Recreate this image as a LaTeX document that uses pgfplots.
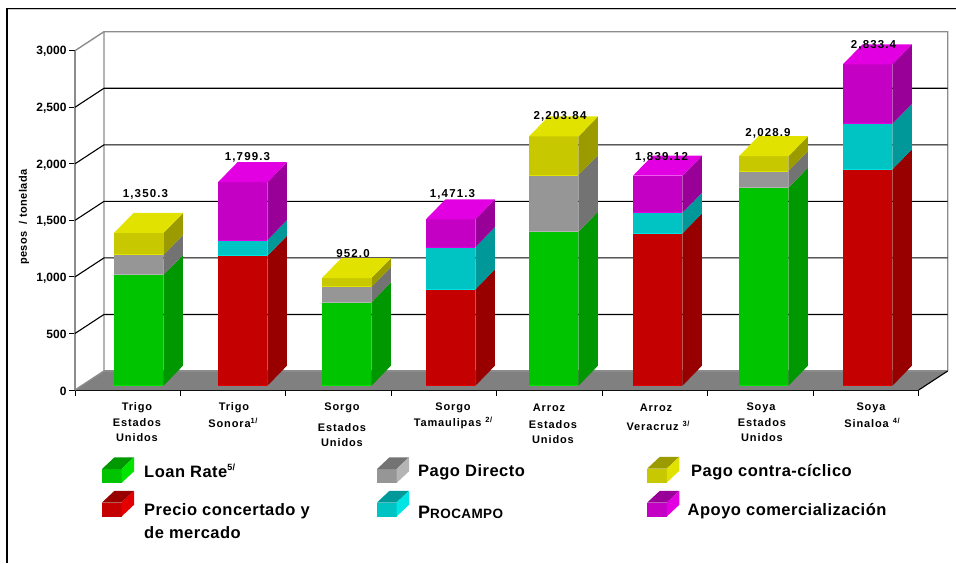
\documentclass[border=0pt]{standalone}
\usepackage{fontspec}
\setmainfont{Liberation Sans}
\usepackage{tikz}
\usepackage{pgfplots}
\pgfplotsset{compat=1.18}

\definecolor{gFront}{RGB}{0,196,0}\definecolor{gSide}{RGB}{0,152,0}\definecolor{gLight}{RGB}{0,228,0}
\definecolor{rFront}{RGB}{196,0,0}\definecolor{rSide}{RGB}{152,0,0}\definecolor{rLight}{RGB}{228,0,0}
\definecolor{dFront}{RGB}{150,150,150}\definecolor{dSide}{RGB}{115,115,115}\definecolor{dLight}{RGB}{180,180,180}
\definecolor{cFront}{RGB}{0,196,196}\definecolor{cSide}{RGB}{0,152,152}\definecolor{cLight}{RGB}{0,228,228}
\definecolor{yFront}{RGB}{200,200,0}\definecolor{ySide}{RGB}{155,155,0}\definecolor{yLight}{RGB}{226,226,0}
\definecolor{mFront}{RGB}{196,0,196}\definecolor{mSide}{RGB}{152,0,152}\definecolor{mLight}{RGB}{226,0,226}
\definecolor{floorgray}{RGB}{128,128,128}
\definecolor{wallgray}{RGB}{140,140,140}

% depth of the walls and of the bars, in axis units
\newcommand{\wx}{0.275}\newcommand{\wy}{168}
\newcommand{\bw}{0.469}\newcommand{\bdx}{0.185}\newcommand{\bdy}{177}\newcommand{\lift}{38}

\newcommand{\gridat}[1]{%
  \pgfmathsetmacro\gy{#1+\wy}%
  \addplot[black,line width=1.1pt] coordinates {(0,#1) (\wx,\gy) (8.275,\gy)};}

\newcommand{\barstart}[1]{\gdef\bx{#1}\gdef\by{0}}
% value, colour prefix
\newcommand{\seg}[2]{%
  \pgfmathsetmacro\xb{\bx+\bw}\pgfmathsetmacro\xc{\bx+\bw+\bdx}%
  \pgfmathsetmacro\ya{\by+\lift}\pgfmathsetmacro\yb{\by+#1+\lift}%
  \pgfmathsetmacro\yc{\ya+\bdy}\pgfmathsetmacro\yd{\yb+\bdy}%
  \addplot[fill=#2Front,draw=none] coordinates {(\bx,\ya) (\xb,\ya) (\xb,\yb) (\bx,\yb)} --cycle;
  \addplot[fill=#2Side,draw=none] coordinates {(\xb,\ya) (\xc,\yc) (\xc,\yd) (\xb,\yb)} --cycle;
  \addplot[#2Light,line width=1pt] coordinates {(\bx,\ya) (\xb,\ya)};
  \pgfmathsetmacro\newy{\by+#1}\global\let\by\newy}
% top face, colour prefix
\newcommand{\bartop}[1]{%
  \pgfmathsetmacro\xb{\bx+\bw}\pgfmathsetmacro\xc{\bx+\bw+\bdx}\pgfmathsetmacro\xd{\bx+\bdx}%
  \pgfmathsetmacro\yb{\by+\lift}\pgfmathsetmacro\yd{\yb+\bdy}%
  \addplot[fill=#1Light,draw=none] coordinates {(\bx,\yb) (\xb,\yb) (\xc,\yd) (\xd,\yd)} --cycle;}

% legend swatch: x, y of the top left of the front face, colour prefix
\newcommand{\swatch}[3]{%
  \fill[#3Front] (#1,#2) rectangle ++(19.5,14);
  \fill[#3Side] (#1,#2) -- ++(12.5,-11.7) -- ++(19.5,0) -- ++(-12.5,11.7) -- cycle;
  \fill[#3Light] (#1+19.5,#2) -- ++(12.5,-11.7) -- ++(0,14) -- ++(-12.5,11.7) -- cycle;}

\newcommand{\lab}{\fontsize{11.5}{13}\selectfont\bfseries\addfontfeature{LetterSpace=10}}
\newcommand{\cat}{\fontsize{11}{13}\selectfont\bfseries\addfontfeature{LetterSpace=8}}
\newcommand{\leg}{\fontsize{16.5}{20}\selectfont\bfseries\addfontfeature{LetterSpace=3}}
\newcommand{\note}[1]{\raisebox{0.4em}{\fontsize{7.5}{8}\selectfont\bfseries #1}}
\newcommand{\legnote}[1]{\raisebox{0.45em}{\fontsize{9}{10}\selectfont\bfseries #1}}

\begin{document}
\begin{tikzpicture}[x=1pt,y=-1pt]
\path[use as bounding box] (0,0) rectangle (956,563);
\draw[black!20,line width=1pt] (7,9.8) -- (956,9.8);
\draw[black,line width=1.1pt] (956,8.5) -- (7,8.5) -- (7,563);

\begin{axis}[
    at={(75pt,-390pt)}, anchor=south west,
    scale only axis,
    width=843.7pt,
    height=339.3pt,
    xmin=0, xmax=8,
    ymin=0, ymax=3000,
    clip=false,
    axis x line=bottom,
    axis y line=left,
    axis line style={-},
    x axis line style={black,line width=1.6pt},
    y axis line style={wallgray,line width=1.4pt},
    xtick={0,1,2,3,4,5,6,7,8},
    xticklabels={},
    ytick={0,500,1000,1500,2000,2500,3000},
    tick align=outside,
    major tick length=6pt,
    tick style={black,line width=1pt},
    /pgf/number format/assume math mode=true,
    /pgf/number format/1000 sep={,},
    yticklabel style={font=\fontsize{12}{14}\selectfont\bfseries,xshift=1pt,yshift=-1pt},
]
% floor and walls
\addplot[fill=floorgray,draw=none] coordinates {(0,0) (0.275,168) (8.275,168) (8,0)} --cycle;
\addplot[wallgray,line width=1.4pt] coordinates {(0,0) (0.275,168) (0.275,3168) (8.275,3168) (8.275,168)};
\addplot[wallgray,line width=1.4pt] coordinates {(0.275,168) (8.275,168)};
\addplot[wallgray,line width=1.4pt] coordinates {(0,3000) (0.275,3168)};
\addplot[black,line width=1.1pt] coordinates {(8,0) (8.275,168)};
\gridat{500}\gridat{1000}\gridat{1500}\gridat{2000}\gridat{2500}

% bars
\barstart{0.370}\seg{979}{g}\seg{177}{d}\seg{194.3}{y}\bartop{y}
\barstart{1.356}\seg{1149}{r}\seg{139}{c}\seg{511.3}{m}\bartop{m}
\barstart{2.342}\seg{737}{g}\seg{136}{d}\seg{79}{y}\bartop{y}
\barstart{3.328}\seg{852}{r}\seg{374}{c}\seg{245.3}{m}\bartop{m}
\barstart{4.305}\seg{1362}{g}\seg{501}{d}\seg{340.84}{y}\bartop{y}
\barstart{5.291}\seg{1347}{r}\seg{183}{c}\seg{327}{m}\bartop{m}
\barstart{6.296}\seg{1751}{g}\seg{147}{d}\seg{130.9}{y}\bartop{y}
\barstart{7.282}\seg{1913}{r}\seg{403}{c}\seg{526}{m}\bartop{m}
\end{axis}

% value labels
\begin{scope}[every node/.append style={yshift=-1pt}]
\node[font=\lab] at (145.5,193) {1,350.3};
\node[font=\lab] at (247.5,156) {1,799.3};
\node[font=\lab] at (353,253) {952.0};
\node[font=\lab] at (452.5,193) {1,471.3};
\node[font=\lab] at (560,115) {2,203.84};
\node[font=\lab] at (661.5,156) {1,839.12};
\node[font=\lab] at (768,132) {2,028.9};
\node[font=\lab] at (873.5,44) {2,833.4};

% categories
\node[font=\cat] at (137,407) {Trigo};
\node[font=\cat] at (137,422) {Estados};
\node[font=\cat] at (137,437) {Unidos};
\node[font=\cat] at (234,407) {Trigo};
\node[font=\cat] at (233,422) {Sonora\note{1/}};
\node[font=\cat] at (342,407) {Sorgo};
\node[font=\cat] at (342,427) {Estados};
\node[font=\cat] at (342,442) {Unidos};
\node[font=\cat] at (453,407) {Sorgo};
\node[font=\cat] at (453,422) {Tamaulipas \note{2/}};
\node[font=\cat] at (549,407) {Arroz};
\node[font=\cat] at (553,424) {Estados};
\node[font=\cat] at (553,439) {Unidos};
\node[font=\cat] at (656,407) {Arroz};
\node[font=\cat] at (658,425) {Veracruz \note{3/}};
\node[font=\cat] at (761,407) {Soya};
\node[font=\cat] at (762,422) {Estados};
\node[font=\cat] at (762,437) {Unidos};
\node[font=\cat] at (871,407) {Soya};
\node[font=\cat] at (872,422) {Sinaloa \note{4/}};
\end{scope}

% axis title
\node[rotate=90,font=\fontsize{11}{12}\selectfont\bfseries\addfontfeature{LetterSpace=4}] at (24,217) {pesos \ / tonelada};

% legend
\swatch{102}{469}{g}
\swatch{102}{502.5}{r}
\swatch{377}{469}{d}
\swatch{377}{502.5}{c}
\swatch{647.3}{468.5}{y}
\swatch{647.3}{502.5}{m}
\node[anchor=west,inner sep=0pt,font=\leg] at (144,471) {Loan Rate\legnote{5/}};
\node[anchor=west,inner sep=0pt,font=\leg] at (144,511.5) {Precio concertado y};
\node[anchor=west,inner sep=0pt,font=\leg] at (144,532.5) {de mercado};
\node[anchor=west,inner sep=0pt,font=\leg] at (418,472.5) {Pago Directo};
\node[anchor=west,inner sep=0pt,font=\leg] at (418,512) {\fontsize{18}{20}\selectfont P\fontsize{13.5}{20}\selectfont ROCAMPO};
\node[anchor=west,inner sep=0pt,font=\leg] at (691,472.5) {Pago contra-cíclico};
\node[anchor=west,inner sep=0pt,font=\leg] at (687.5,511.5) {Apoyo comercialización};
\end{tikzpicture}
\end{document}
